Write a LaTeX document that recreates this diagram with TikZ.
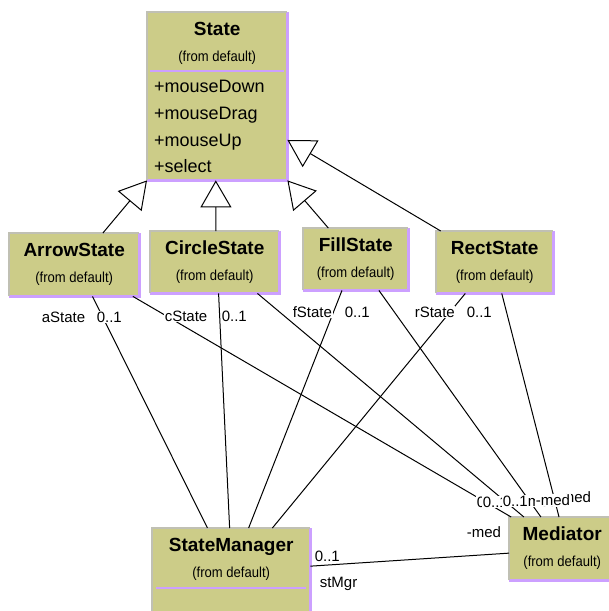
\documentclass[tikz,border=0pt]{standalone}
\usepackage{fontspec}
\setmainfont{Liberation Sans}
\newfontfamily\narrowsans[FakeStretch=0.9]{Liberation Sans}
\usetikzlibrary{arrows.meta,calc}
\definecolor{clsfill}{RGB}{204,204,136}
\definecolor{clslav}{RGB}{204,160,255}
\definecolor{clsrim}{RGB}{192,192,180}

\begin{document}
\begin{tikzpicture}[x=1pt,y=-1pt,
  cls/.style={rectangle, fill=clsfill, draw=none, inner sep=0pt, anchor=north west},
  rimlav/.style={draw=clslav, line width=2.6pt},
  rimgray/.style={draw=clsrim, line width=2pt},
  ttl/.style={font=\fontsize{19}{22}\selectfont\bfseries, inner sep=0pt, anchor=base},
  frm/.style={font=\narrowsans\fontsize{14.5}{17}\selectfont, inner sep=0pt, anchor=base},
  attr/.style={font=\fontsize{18}{21}\selectfont, inner sep=0pt, anchor=base west},
  role/.style={font=\fontsize{15}{18}\selectfont, fill=white, inner sep=0.6pt, anchor=base west},
  edge/.style={draw=black, line width=1pt},
  inh/.style={edge, -{Triangle[open, length=27pt, width=31pt, line width=1pt]}}
]
\path[use as bounding box, fill=white] (0,0) rectangle (609,611);
\begin{scope}
\clip (0,0) rectangle (609,611);

% class boxes
\node[cls, minimum width=140pt, minimum height=168pt] (State) at (147,12) {};
\node[cls, minimum width=130pt, minimum height=63pt] (ArrowState) at (9,233) {};
\node[cls, minimum width=129pt, minimum height=62pt] (CircleState) at (150,231) {};
\node[cls, minimum width=105pt, minimum height=62pt] (FillState) at (303,228) {};
\node[cls, minimum width=117pt, minimum height=62pt] (RectState) at (436,231) {};
\node[cls, minimum width=158pt, minimum height=95pt] (StateManager) at (152,528) {};
\node[cls, minimum width=106pt, minimum height=63pt] (Mediator) at (509,517) {};

\foreach \n in {State,ArrowState,CircleState,FillState,RectState,StateManager,Mediator}{
  \draw[rimlav] (\n.north east) |- (\n.south west);
  \draw[rimgray] (\n.south west) |- (\n.north east);
  \node[ttl] (t\n) at ($(\n.north)+(0,23.5)$) {\n};
  \node[frm] (s\n) at ($(\n.north)+(0,49.5)$) {(from default)};
}

% compartments
\draw[rimlav, line width=2pt] ($(State.north west)+(3,59)$) -- ($(State.north east)+(-3,59)$);
\draw[rimlav, line width=2pt] ($(StateManager.north west)+(4,60)$) -- ($(StateManager.north east)+(-4,60)$);

% operations of State
\node[attr] (op1) at ($(State.north west)+(7,80)$) {+mouseDown};
\node[attr] (op2) at ($(State.north west)+(7,107)$) {+mouseDrag};
\node[attr] (op3) at ($(State.north west)+(7,134)$) {+mouseUp};
\node[attr] (op4) at ($(State.north west)+(7,160)$) {+select};

% generalizations
\draw[inh] ($(ArrowState.north west)!0.72!(ArrowState.north east)$) -- (State.south west);
\draw[inh] ($(CircleState.north west)!0.51!(CircleState.north east)$) -- ($(State.south west)!0.49!(State.south east)$);
\draw[inh] ($(FillState.north west)!0.24!(FillState.north east)$) -- (State.south east);
\draw[inh] ($(RectState.north west)!0.04!(RectState.north east)$) -- ($(State.north east)!0.76!(State.south east)$);

% associations with StateManager
\draw[edge] ($(ArrowState.south west)!0.64!(ArrowState.south east)$) -- ($(StateManager.north west)!0.35!(StateManager.north east)$);
\draw[edge] ($(CircleState.south west)!0.53!(CircleState.south east)$) -- ($(StateManager.north west)!0.49!(StateManager.north east)$);
\draw[edge] ($(FillState.south west)!0.37!(FillState.south east)$) -- ($(StateManager.north west)!0.61!(StateManager.north east)$);
\draw[edge] ($(RectState.south west)!0.25!(RectState.south east)$) -- ($(StateManager.north west)!0.76!(StateManager.north east)$);

% associations with Mediator
\draw[edge] ($(ArrowState.south west)!0.95!(ArrowState.south east)$) -- ($(Mediator.north west)!0.02!(Mediator.north east)$);
\draw[edge] ($(CircleState.south west)!0.83!(CircleState.south east)$) -- ($(Mediator.north west)!0.14!(Mediator.north east)$);
\draw[edge] ($(FillState.south west)!0.72!(FillState.south east)$) -- ($(Mediator.north west)!0.30!(Mediator.north east)$);
\draw[edge] ($(RectState.south west)!0.56!(RectState.south east)$) -- ($(Mediator.north west)!0.47!(Mediator.north east)$);

\draw[edge] ($(StateManager.north east)!0.40!(StateManager.south east)$) -- ($(Mediator.north west)!0.57!(Mediator.south west)$);

% role names and multiplicities
\node[role] (ra) at (41,322) {aState};
\node[role] (ma) at (96,322) {0..1};
\node[role] (rc) at (164,321) {cState};
\node[role] (mc) at (221,321) {0..1};
\node[role] (rf) at (292,317) {fState};
\node[role] (mf) at (344,317) {0..1};
\node[role] (rr) at (414,317) {rState};
\node[role] (mr) at (466,317) {0..1};

\node[role] (md4) at (556,502) {-med};
\node[role] (md1) at (522,506) {-med};
\node[role] (mm1) at (476,507) {0..1};
\node[role] (mm2) at (482,507) {0..1};
\node[role] (mm3) at (502,506) {0..1};
\node[role] (md2) at (535,505) {-med};

\node[role] (mdS) at (466,537) {-med};
\node[role] (mS) at (314,561) {0..1};
\node[role] (rS) at (319,587) {stMgr};
\end{scope}
\end{tikzpicture}
\end{document}
